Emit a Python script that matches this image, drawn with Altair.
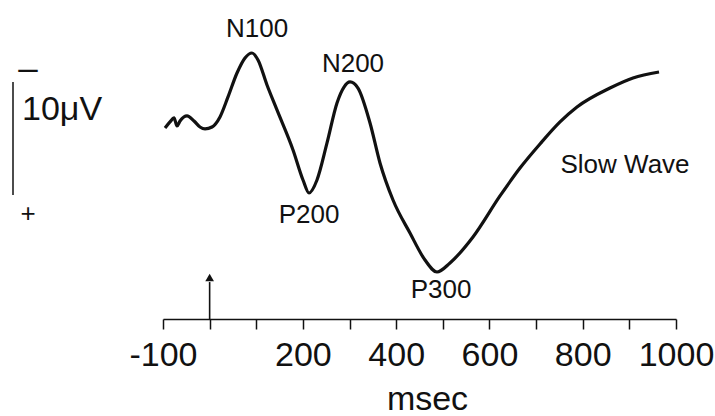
import altair as alt
import pandas as pd

# ERP waveform (msec, microvolts; negative plotted upward)
time_ms = [-95.7, -85.0, -76.4, -70.0, -63.5, -48.5, -33.5, -20.7, -9.9, 5.1, 22.2,
           39.4, 58.7, 75.8, 90.8, 103.7, 123.0, 144.4, 178.8, 200.2, 213.1, 230.2,
           251.7, 273.1, 288.1, 301.0, 318.1, 343.9, 365.3, 393.2, 429.6, 461.8,
           487.5, 515.4, 564.7, 622.6, 665.5, 708.4, 751.3, 787.7, 858.5, 907.8, 963.6]
amplitude_uv = [0.27, -0.27, -0.62, 0.09, -0.35, -0.80, -0.35, 0.18, 0.35, 0.18, -0.71,
                -2.48, -4.60, -5.93, -6.37, -5.75, -3.54, -1.33, 2.21, 4.87, 6.02, 4.87,
                1.59, -1.95, -3.36, -3.81, -3.27, -0.18, 3.36, 6.64, 9.56, 11.95,
                13.01, 12.21, 9.91, 6.28, 3.81, 1.68, -0.27, -1.59, -3.27, -4.16, -4.69]

# component labels
component_names = ["N100", "N200", "P200", "P300", "Slow Wave"]
component_ms = [101.6, 307.4, 213.1, 496.1, 890.7]
component_uv = [-7.79, -4.69, 8.67, 15.31, 4.25]

# stimulus onset arrow
onset_ms = [0]
onset_top_uv = [13.9]
onset_bottom_uv = [17.17]
onset_head_uv = [13.5]

# calibration bar (10 microvolts)
scale_bar_uv = [-3.81, 6.19]
minus_uv = [-4.96]
plus_uv = [7.88]
unit_label_uv = [-0.44]

tick_values = list(range(-100, 1001, 100))

FONT = "Liberation Sans"
y_scale = alt.Scale(domain=[-11.06, 17.17], reverse=True, nice=False, zero=False)
x_scale = alt.Scale(domain=[-100, 1000], nice=False, zero=False)

wave = pd.DataFrame({"t": time_ms, "v": amplitude_uv})
labels = pd.DataFrame({"t": component_ms, "v": component_uv, "name": component_names})
onset = pd.DataFrame({"t": onset_ms, "v": onset_top_uv, "v2": onset_bottom_uv, "vh": onset_head_uv})
bar = pd.DataFrame({"v": [scale_bar_uv[0]], "v2": [scale_bar_uv[1]]})
signs = pd.DataFrame({"v": [minus_uv[0], plus_uv[0]], "s": ["–", "+"], "fs": [35, 26]})
unit = pd.DataFrame({"v": unit_label_uv, "s": ["10μV"]})

x_axis = alt.Axis(
    values=tick_values,
    labelExpr="datum.value == -100 || (datum.value > 0 && datum.value % 200 == 0) ? '' + datum.value : ''",
    labelOverlap=False, labelFlush=False,
    domainColor="#111", domainWidth=1.5,
    tickColor="#111", tickWidth=1.5, tickSize=10,
    labelFont=FONT, labelFontSize=34, labelColor="#111",
    labelBaseline="alphabetic", labelPadding=36,
    title="msec", titleFont=FONT, titleFontSize=34, titleFontWeight="normal",
    titleColor="#111", titleBaseline="alphabetic", titleY=90, titleX=264,
    grid=False,
)

line = alt.Chart(wave).mark_line(color="#111", strokeWidth=3.2, interpolate="monotone").encode(
    x=alt.X("t:Q", scale=x_scale, axis=x_axis),
    y=alt.Y("v:Q", scale=y_scale, axis=None),
)

text = alt.Chart(labels).mark_text(font=FONT, fontSize=26, color="#111", align="center",
                                   baseline="alphabetic").encode(
    x=alt.X("t:Q", scale=x_scale), y=alt.Y("v:Q", scale=y_scale), text="name:N")

arrow = alt.Chart(onset).mark_rule(color="#111", strokeWidth=1.6).encode(
    x=alt.X("t:Q", scale=x_scale), y=alt.Y("v:Q", scale=y_scale), y2="v2:Q")
head = alt.Chart(onset).mark_point(shape="triangle-up", filled=True, color="#111", size=75,
                                   opacity=1).encode(
    x=alt.X("t:Q", scale=x_scale), y=alt.Y("vh:Q", scale=y_scale))

calib = alt.Chart(bar).mark_rule(color="#111", strokeWidth=1.5).encode(
    x=alt.value(-150), y=alt.Y("v:Q", scale=y_scale), y2="v2:Q")
sign_text = alt.Chart(signs).mark_text(font=FONT, color="#111", align="center",
                                       baseline="middle").encode(
    x=alt.value(-135), y=alt.Y("v:Q", scale=y_scale), text="s:N",
    size=alt.Size("fs:Q", scale=None, legend=None))
unit_text = alt.Chart(unit).mark_text(font=FONT, fontSize=34, color="#111", align="left",
                                      baseline="alphabetic").encode(
    x=alt.value(-141), y=alt.Y("v:Q", scale=y_scale), text="s:N")

chart = alt.layer(line, text, arrow, head, calib, sign_text, unit_text).properties(
    width=513, height=319,
    autosize=alt.AutoSizeParams(type="none"),
    padding={"left": 163, "top": 0, "right": 39, "bottom": 97},
    background="white",
).configure_view(stroke=None)

chart.save("out.html", embed_options={"renderer": "svg", "actions": False})
